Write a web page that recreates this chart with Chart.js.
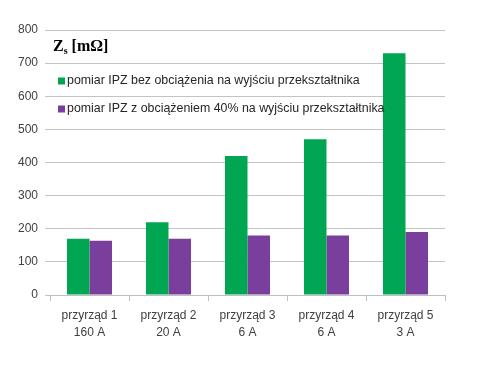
<!DOCTYPE html>
<html>
<head>
<meta charset="utf-8">
<script src="https://cdn.jsdelivr.net/npm/chart.js@4/dist/chart.umd.min.js"></script>
<style>
  html, body { margin: 0; padding: 0; background: #fff; }
  #wrap { width: 501px; height: 367px; }
</style>
</head>
<body>
<div id="wrap"><canvas id="zsChart" width="501" height="367"></canvas></div>
<script>
const categories = [
    ["przyrząd 1", "160 A"],
    ["przyrząd 2", "20 A"],
    ["przyrząd 3", "6 A"],
    ["przyrząd 4", "6 A"],
    ["przyrząd 5", "3 A"]
];
const noLoad = [170, 220, 420, 470, 730];
const load40 = [164, 170, 180, 180, 190];
const yTicks = [0, 100, 200, 300, 400, 500, 600, 700, 800];

// legend + axis caption drawn inside the plot area
const insideLegend = {
    id: 'insideLegend',
    afterDatasetsDraw(chart) {
        const c = chart.ctx;
        const left = chart.chartArea.left;
        c.save();
        c.fillStyle = '#000';
        c.textBaseline = 'alphabetic';
        c.font = 'bold 16px "Liberation Serif"';
        c.fillText('Z', left + 3, 51);
        let w = c.measureText('Z').width;
        c.font = 'bold 10px "Liberation Serif"';
        c.fillText('s', left + 3 + w, 54);
        let w2 = c.measureText('s').width;
        c.font = 'bold 16px "Liberation Serif"';
        c.fillText(' [mΩ]', left + 3 + w + w2, 51);

        c.font = '12.4px "Liberation Sans"';
        c.textBaseline = 'middle';
        const rows = [81, 109];
        chart.data.datasets.forEach((ds, i) => {
            c.fillStyle = ds.backgroundColor;
            c.fillRect(left + 8, rows[i] - 3.5, 7, 7);
            c.fillStyle = '#262626';
            c.fillText(ds.label, left + 17, rows[i]);
        });
        c.restore();
    }
};

new Chart(document.getElementById('zsChart'), {
    type: 'bar',
    data: {
        labels: categories,
        datasets: [{
                label: 'pomiar IPZ bez obciążenia na wyjściu przekształtnika',
                data: noLoad,
                backgroundColor: '#00a651',
                borderWidth: 0
            }, {
                label: 'pomiar IPZ z obciążeniem 40% na wyjściu przekształtnika',
                data: load40,
                backgroundColor: '#7a3f9c',
                borderWidth: 0
            }]
    },
    options: {
        responsive: false,
        animation: false,
        layout: {
            padding: {top: 30, right: 56, left: 0, bottom: 0}
        },
        datasets: {
            bar: {
                categoryPercentage: 0.57,
                barPercentage: 1
            }
        },
        plugins: {
            legend: {display: false},
            tooltip: {enabled: false}
        },
        scales: {
            y: {
                min: 0,
                max: 800,
                afterBuildTicks(scale) {
                    scale.ticks = yTicks.map(v => ({value: v}));
                },
                afterFit(scale) {
                    scale.width = 50;
                },
                border: {display: false},
                grid: {
                    color: '#c4c4c4',
                    tickLength: 5,
                    lineWidth: 1
                },
                ticks: {
                    color: '#404040',
                    padding: 7,
                    font: {family: '"Liberation Sans"', size: 12}
                }
            },
            x: {
                afterFit(scale) {
                    scale.height = 72;
                },
                border: {display: true, color: '#bfbfbf'},
                grid: {
                    offset: true,
                    drawOnChartArea: false,
                    color: '#bfbfbf',
                    tickLength: 6
                },
                ticks: {
                    color: '#404040',
                    padding: 6,
                    maxRotation: 0,
                    font: {family: '"Liberation Sans"', size: 12, lineHeight: 1.4}
                }
            }
        }
    },
    plugins: [insideLegend]
});
</script>
</body>
</html>
